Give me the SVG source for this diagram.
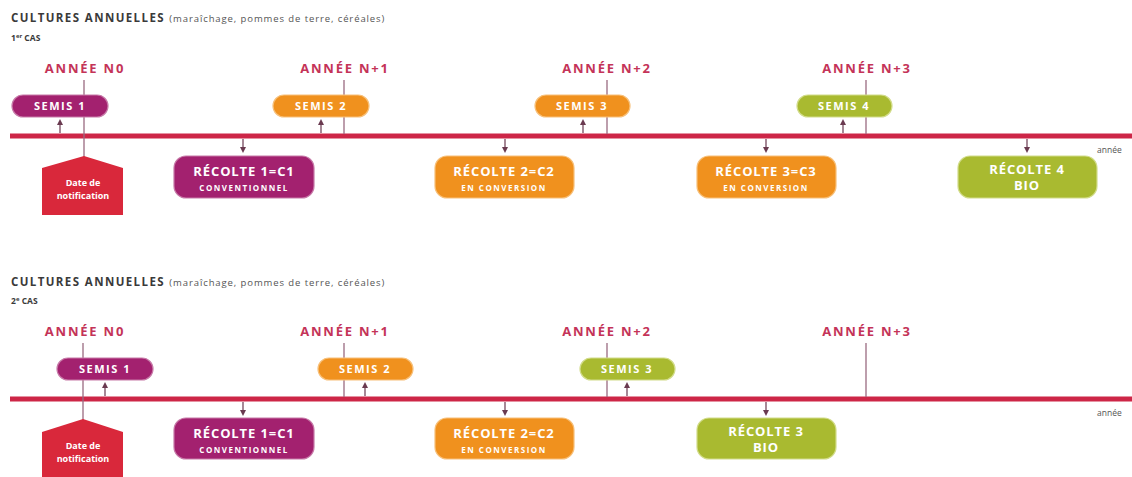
<svg xmlns="http://www.w3.org/2000/svg" width="1132" height="477" viewBox="0 0 1132 477">
<defs>
<style>
.t{font-family:"Open Sans","Liberation Sans",sans-serif;}
.title{font-size:11.5px;font-weight:bold;fill:#3a3a3a;letter-spacing:1.4px;}
.sub{font-size:9.5px;font-weight:normal;fill:#555;letter-spacing:0.9px;}
.cas{font-size:8.5px;font-weight:bold;fill:#3a3a3a;}
.yr{font-size:13px;font-weight:bold;fill:#c43358;letter-spacing:1.8px;text-anchor:middle;}
.pl{font-size:11px;font-weight:bold;fill:#fff;text-anchor:middle;letter-spacing:1.5px;}
.bx{font-size:13px;font-weight:bold;fill:#fff;text-anchor:middle;letter-spacing:0.9px;}
.bs{font-size:8px;font-weight:bold;fill:#fff;text-anchor:middle;letter-spacing:1.5px;}
.nt{font-size:9px;font-weight:bold;fill:#fff;text-anchor:middle;}
.an{font-size:8.5px;fill:#555;}
.p{fill:#a3216f;stroke:#c77aa8;stroke-width:1.2;}
.o{fill:#f0911e;stroke:#f7c07a;stroke-width:1.2;}
.g{fill:#a9ba30;stroke:#d2dc8a;stroke-width:1.2;}
.axis{fill:#cd2647;}
.vl{stroke:#9a6a80;stroke-width:1.3;fill:none;}
.ar{stroke:#6a3a50;stroke-width:1.2;fill:none;}
.notif{fill:#d9283b;}
</style>
<marker id="ah" markerWidth="6" markerHeight="6" refX="3" refY="3" orient="auto" markerUnits="userSpaceOnUse">
<path d="M0,0 L6,3 L0,6 Z" fill="#6a3a50"/>
</marker>
</defs>
<rect width="1132" height="477" fill="#fff"/>

<!-- Panel 1 -->
<g id="title1" class="t">
<text x="11" y="22" class="title">CULTURES ANNUELLES <tspan class="sub">(maraîchage, pommes de terre, céréales)</tspan></text>
<text x="11" y="41" class="cas">1<tspan font-size="6" dy="-3">er</tspan><tspan dy="3"> CAS</tspan></text>
</g>

<g id="axis1">
<rect x="10" y="133.5" width="1122" height="5" class="axis"/>
<text x="1097" y="153" class="t an">année</text>
</g>

<g id="connectors1">
<line x1="84" y1="80" x2="84" y2="160" class="vl"/>
<line x1="344" y1="80" x2="344" y2="134" class="vl"/>
<line x1="607" y1="80" x2="607" y2="134" class="vl"/>
<line x1="866" y1="80" x2="866" y2="134" class="vl"/>
<line x1="60" y1="133" x2="60" y2="122" class="ar" marker-end="url(#ah)"/>
<line x1="321" y1="133" x2="321" y2="122" class="ar" marker-end="url(#ah)"/>
<line x1="583" y1="133" x2="583" y2="122" class="ar" marker-end="url(#ah)"/>
<line x1="843" y1="133" x2="843" y2="122" class="ar" marker-end="url(#ah)"/>
<line x1="243" y1="139" x2="243" y2="150" class="ar" marker-end="url(#ah)"/>
<line x1="505" y1="139" x2="505" y2="150" class="ar" marker-end="url(#ah)"/>
<line x1="766" y1="139" x2="766" y2="150" class="ar" marker-end="url(#ah)"/>
<line x1="1027" y1="139" x2="1027" y2="150" class="ar" marker-end="url(#ah)"/>
</g>

<g id="yr1" class="t">
<text x="85" y="73" class="yr">ANNÉE N0</text>
<text x="345" y="73" class="yr">ANNÉE N+1</text>
<text x="607" y="73" class="yr">ANNÉE N+2</text>
<text x="867" y="73" class="yr">ANNÉE N+3</text>
</g>

<g id="semis1a" class="t"><rect x="12" y="95" width="96" height="22" rx="11" class="p"/><text x="60" y="110" class="pl">SEMIS 1</text></g>
<g id="semis2a" class="t"><rect x="273" y="95" width="96" height="22" rx="11" class="o"/><text x="321" y="110" class="pl">SEMIS 2</text></g>
<g id="semis3a" class="t"><rect x="535" y="95" width="95" height="22" rx="11" class="o"/><text x="582" y="110" class="pl">SEMIS 3</text></g>
<g id="semis4a" class="t"><rect x="797" y="95" width="95" height="22" rx="11" class="g"/><text x="844" y="110" class="pl">SEMIS 4</text></g>

<g id="notif1" class="t">
<path d="M42,168 L84,156 L123,168 L123,215 L42,215 Z" class="notif"/>
<text x="83" y="186" class="nt">Date de</text>
<text x="83" y="199" class="nt">notification</text>
</g>

<g id="recolte1a" class="t"><rect x="174" y="156" width="140" height="42" rx="12" class="p"/><text x="244" y="176" class="bx">RÉCOLTE 1=C1</text><text x="244" y="191" class="bs">CONVENTIONNEL</text></g>
<g id="recolte2a" class="t"><rect x="435" y="156" width="139" height="42" rx="12" class="o"/><text x="504" y="176" class="bx">RÉCOLTE 2=C2</text><text x="504" y="191" class="bs">EN CONVERSION</text></g>
<g id="recolte3a" class="t"><rect x="697" y="156" width="139" height="42" rx="12" class="o"/><text x="766" y="176" class="bx">RÉCOLTE 3=C3</text><text x="766" y="191" class="bs">EN CONVERSION</text></g>
<g id="recolte4a" class="t"><rect x="958" y="156" width="139" height="42" rx="12" class="g"/><text x="1027" y="174" class="bx">RÉCOLTE 4</text><text x="1027" y="190" class="bx">BIO</text></g>

<!-- Panel 2 -->
<g id="title2" class="t">
<text x="11" y="286" class="title">CULTURES ANNUELLES <tspan class="sub">(maraîchage, pommes de terre, céréales)</tspan></text>
<text x="11" y="304" class="cas">2<tspan font-size="6" dy="-3">e</tspan><tspan dy="3"> CAS</tspan></text>
</g>

<g id="axis2">
<rect x="10" y="396.5" width="1122" height="5" class="axis"/>
<text x="1097" y="416" class="t an">année</text>
</g>

<g id="connectors2">
<line x1="83" y1="343" x2="83" y2="423" class="vl"/>
<line x1="344" y1="343" x2="344" y2="397" class="vl"/>
<line x1="607" y1="343" x2="607" y2="397" class="vl"/>
<line x1="866" y1="343" x2="866" y2="397" class="vl"/>
<line x1="105" y1="396" x2="105" y2="385" class="ar" marker-end="url(#ah)"/>
<line x1="365" y1="396" x2="365" y2="385" class="ar" marker-end="url(#ah)"/>
<line x1="627" y1="396" x2="627" y2="385" class="ar" marker-end="url(#ah)"/>
<line x1="243" y1="402" x2="243" y2="413" class="ar" marker-end="url(#ah)"/>
<line x1="505" y1="402" x2="505" y2="413" class="ar" marker-end="url(#ah)"/>
<line x1="766" y1="402" x2="766" y2="413" class="ar" marker-end="url(#ah)"/>
</g>

<g id="yr2" class="t">
<text x="85" y="336" class="yr">ANNÉE N0</text>
<text x="345" y="336" class="yr">ANNÉE N+1</text>
<text x="607" y="336" class="yr">ANNÉE N+2</text>
<text x="867" y="336" class="yr">ANNÉE N+3</text>
</g>

<g id="semis1b" class="t"><rect x="57" y="358" width="96" height="22" rx="11" class="p"/><text x="105" y="373" class="pl">SEMIS 1</text></g>
<g id="semis2b" class="t"><rect x="318" y="358" width="95" height="22" rx="11" class="o"/><text x="365" y="373" class="pl">SEMIS 2</text></g>
<g id="semis3b" class="t"><rect x="580" y="358" width="95" height="22" rx="11" class="g"/><text x="627" y="373" class="pl">SEMIS 3</text></g>

<g id="notif2" class="t">
<path d="M42,432 L83,419 L123,432 L123,477 L42,477 Z" class="notif"/>
<text x="83" y="449" class="nt">Date de</text>
<text x="83" y="462" class="nt">notification</text>
</g>

<g id="recolte1b" class="t"><rect x="174" y="418" width="140" height="41" rx="12" class="p"/><text x="244" y="438" class="bx">RÉCOLTE 1=C1</text><text x="244" y="453" class="bs">CONVENTIONNEL</text></g>
<g id="recolte2b" class="t"><rect x="435" y="418" width="139" height="41" rx="12" class="o"/><text x="504" y="438" class="bx">RÉCOLTE 2=C2</text><text x="504" y="453" class="bs">EN CONVERSION</text></g>
<g id="recolte3b" class="t"><rect x="697" y="418" width="139" height="41" rx="12" class="g"/><text x="766" y="436" class="bx">RÉCOLTE 3</text><text x="766" y="452" class="bx">BIO</text></g>
</svg>
